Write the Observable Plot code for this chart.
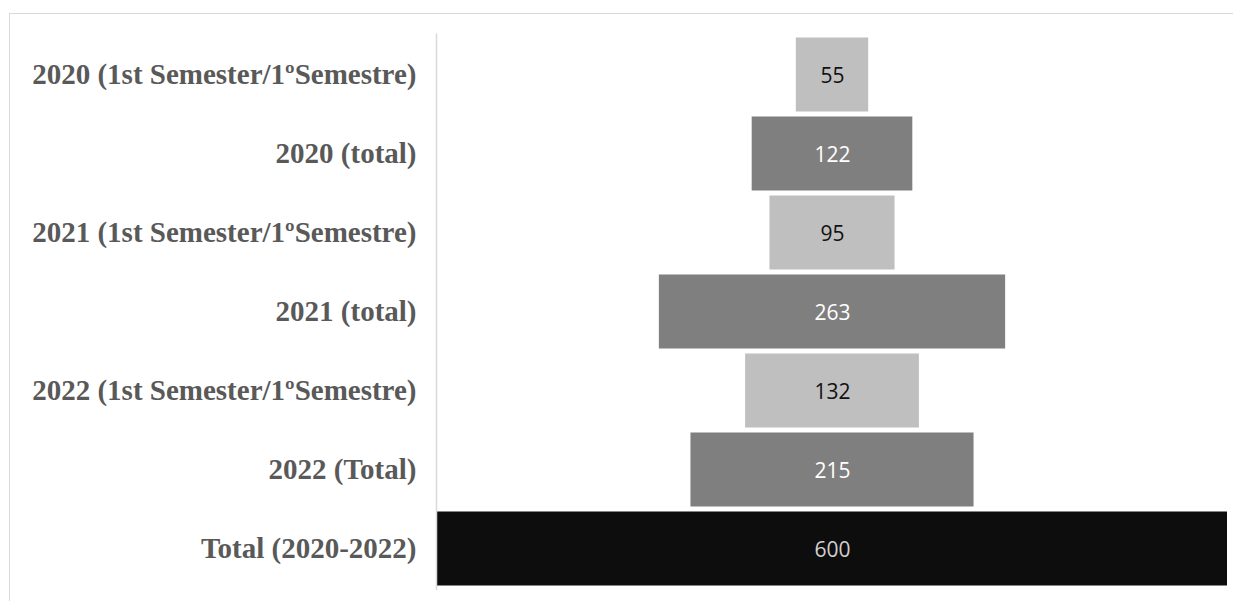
<!DOCTYPE html>
<html>
<head>
<meta charset="utf-8">
<script src="https://cdn.jsdelivr.net/npm/d3@7"></script>
<script src="https://cdn.jsdelivr.net/npm/@observablehq/plot@0.6"></script>
<style>
  html, body { margin: 0; padding: 0; background: #fff; }
  #wrap { position: relative; width: 1233px; height: 601px; overflow: hidden; }
  #frame { position: absolute; left: 9px; top: 13px; right: -2px; bottom: -2px;
           border-top: 1.5px solid #d9d9d9; border-left: 1.5px solid #d9d9d9; pointer-events: none; }
  #chart { position: absolute; left: 0; top: 0; }
</style>
</head>
<body>
<div id="wrap"><div id="chart"></div><div id="frame"></div></div>
<script>
const categories = [
  "2020 (1st Semester/1ºSemestre)",
  "2020 (total)",
  "2021 (1st Semester/1ºSemestre)",
  "2021 (total)",
  "2022 (1st Semester/1ºSemestre)",
  "2022 (Total)",
  "Total (2020-2022)"
];
const values = [55, 122, 95, 263, 132, 215, 600];
const kinds = ["semester", "total", "semester", "total", "semester", "total", "grand"];

const fillByKind = {semester: "#bfbfbf", total: "#7f7f7f", grand: "#0d0d0d"};
const textByKind = {semester: "#111111", total: "#ffffff", grand: "#d0d0d0"};

const data = categories.map((c, i) => ({cat: c, value: values[i], kind: kinds[i]}));

const chart = Plot.plot({
  width: 1233,
  height: 601,
  marginLeft: 437,
  marginRight: 6,
  marginTop: 33.5,
  marginBottom: 11,
  x: {domain: [-300, 300], axis: null},
  y: {domain: categories, padding: 0, label: null},
  style: {background: "transparent"},
  marks: [
    Plot.barX(data, {
      y: "cat",
      x1: d => -d.value / 2,
      x2: d => d.value / 2,
      fill: d => fillByKind[d.kind],
      insetTop: 2.5,
      insetBottom: 2.5
    }),
    Plot.text(data, {
      y: "cat",
      x: 0,
      text: d => String(d.value),
      fill: d => textByKind[d.kind],
      fontSize: 21,
      fontFamily: "'Open Sans', sans-serif",
      dy: 1
    }),
    Plot.ruleX([-300], {stroke: "#d9d9d9", strokeWidth: 1.5, dx: -1}),
    Plot.axisY({
      tickSize: 0,
      tickPadding: 21,
      fontSize: 29,
      fontFamily: "'Liberation Serif', 'Times New Roman', serif",
      fontWeight: "bold",
      fill: "#595959",
      label: null
    })
  ]
});
document.getElementById("chart").appendChild(chart);
</script>
</body>
</html>
